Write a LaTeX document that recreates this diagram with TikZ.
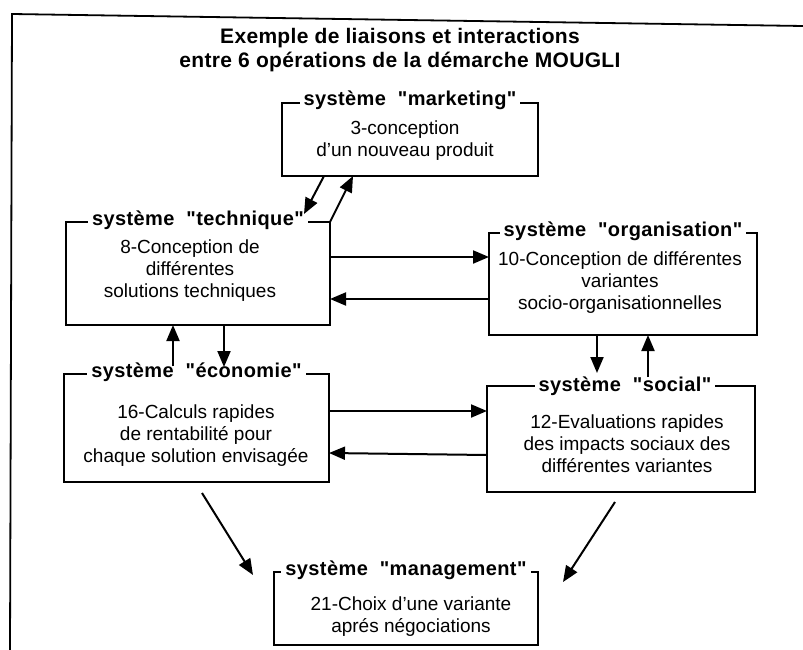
\documentclass[tikz,border=0pt]{standalone}
\usepackage{fontspec}
\setmainfont{Liberation Sans}
\newfontfamily\spacedbf[LetterSpace=2]{Liberation Sans Bold}
\newfontfamily\titlebf[LetterSpace=1.5]{Liberation Sans Bold}
\usetikzlibrary{arrows.meta}

\begin{document}
\begin{tikzpicture}[
    x=1pt, y=-1pt,
    >={Triangle[length=16pt,width=13pt]},
    sysbox/.style 2 args={
        rectangle,
        draw,
        line width=1.8pt,
        inner sep=0pt,
        outer sep=0pt,
        minimum width=#1pt,
        minimum height=#2pt
    },
    syslabel/.style={
        fill=white,
        anchor=base,
        inner xsep=4pt,
        inner ysep=1pt,
        font=\fontsize{20}{22}\selectfont\spacedbf
    },
    bodytext/.style={
        inner sep=0pt,
        align=center,
        font=\fontsize{19}{22}\selectfont
    },
    flow/.style={
        ->,
        line width=2pt
    }
]
\useasboundingbox (0,0) rectangle (803,650);

% ---- Frame (scan edge) ----
\draw[line width=1.8pt] (803,26) -- (12,14) -- (10,650);

% ---- Title ----
\node[align=center, inner sep=0pt, font=\fontsize{21}{24}\selectfont\titlebf] (title) at (400,50)
    {Exemple de liaisons et interactions\\entre 6 opérations de la démarche MOUGLI};

% ---- The six systems ----
\node[sysbox={256}{73}]  (mkt)  at (410,139.5) {};
\node[sysbox={264}{103}] (tech) at (198,273.5) {};
\node[sysbox={268}{102}] (org)  at (623,284)   {};
\node[sysbox={265}{108}] (eco)  at (196.5,428) {};
\node[sysbox={268}{106}] (soc)  at (621,439)   {};
\node[sysbox={264}{73}]  (mgt)  at (406,608.5) {};

% ---- Labels sitting on the top border ----
\node[syslabel] (mktlab)  at ([yshift=-3pt]mkt.north)  {système\ \ "marketing"};
\node[syslabel] (techlab) at ([yshift=-3pt]tech.north) {système\ \ "technique"};
\node[syslabel] (orglab)  at ([yshift=-3pt]org.north)  {système\ \ "organisation"};
\node[syslabel] (ecolab)  at ([yshift=-3pt]eco.north)  {système\ \ "économie"};
\node[syslabel] (soclab)  at ([xshift=4pt,yshift=-5pt]soc.north) {système\ \ "social"};
\node[syslabel] (mgtlab)  at ([yshift=-3pt]mgt.north)  {système\ \ "management"};

% ---- Operations ----
\node[bodytext] (mkttxt)  at (405,141) {3-conception\\d'un nouveau produit};
\node[bodytext] (techtxt) at (190,271) {8-Conception de\\différentes\\solutions techniques};
\node[bodytext] (orgtxt)  at (620,282) {10-Conception de différentes\\variantes\\socio-organisationnelles};
\node[bodytext] (ecotxt)  at (196,436) {16-Calculs rapides\\de rentabilité pour\\chaque solution envisagée};
\node[bodytext] (soctxt)  at (627,444) {12-Evaluations rapides\\des impacts sociaux des\\différentes variantes};
\node[bodytext] (mgttxt)  at (411,617) {21-Choix d'une variante\\aprés négociations};

% ---- Flows ----
\draw[flow] ([xshift=42pt]mkt.south west) -- ([xshift=-26pt,yshift=8pt]tech.north east);
\draw[flow] (tech.north east) -- ([xshift=71pt]mkt.south west);

\draw[flow] ([yshift=-35pt]tech.north east) -- ([yshift=-24pt]org.north west);
\draw[flow] ([yshift=-66pt]org.north west) -- ([yshift=-77pt]tech.north east);

\draw[flow] ([xshift=109pt,yshift=8pt]eco.north west) -- ([xshift=107pt]tech.south west);
\draw[flow] ([xshift=158pt]tech.south west) -- ([xshift=160pt,yshift=7pt]eco.north west);

\draw[flow] ([yshift=-37pt]eco.north east) -- ([yshift=-25pt]soc.north west);
\draw[flow] ([yshift=-69pt]soc.north west) -- ([yshift=-79pt]eco.north east);

\draw[flow] ([xshift=108pt]org.south west) -- ([xshift=110pt,yshift=13pt]soc.north west);
\draw[flow] ([xshift=161pt,yshift=9pt]soc.north west) -- ([xshift=159pt]org.south west);

\draw[flow] ([xshift=138pt,yshift=-11pt]eco.south west) -- ([xshift=-21pt,yshift=-3pt]mgt.north west);
\draw[flow] ([xshift=-140pt,yshift=-10pt]soc.south east) -- ([xshift=25pt,yshift=-10pt]mgt.north east);

\end{tikzpicture}
\end{document}
